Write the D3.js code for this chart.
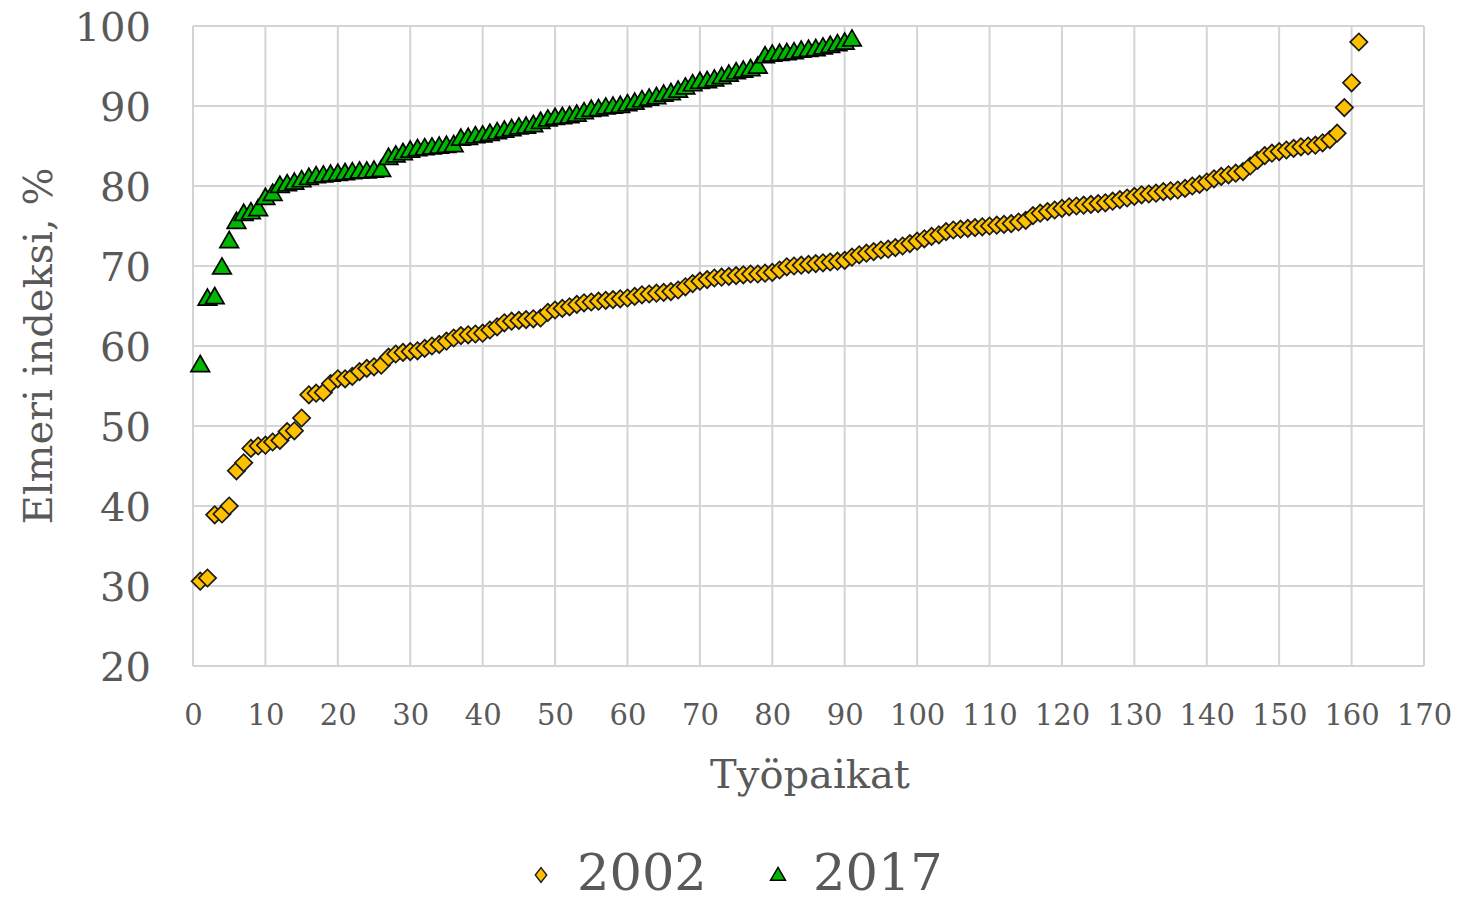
<!DOCTYPE html>
<html>
<head>
<meta charset="utf-8">
<script src="https://cdn.jsdelivr.net/npm/d3@7"></script>
<style>
  body { margin: 0; background: #fff; }
  svg { display: block; }
</style>
</head>
<body>
<svg id="chart"></svg>
<script>
// Elmeri-indeksi per työpaikka, järjestetty nousevasti
var vals2002 = [30.6, 31.0, 38.9, 39.0, 40.0, 44.4, 45.4, 47.2, 47.5, 47.6,
  48.0, 48.2, 49.3, 49.4, 51.0, 53.9, 54.1, 54.2, 55.3, 55.9,
  55.9, 56.2, 56.8, 57.2, 57.4, 57.6, 58.6, 59.0, 59.2, 59.3,
  59.4, 59.7, 60.0, 60.2, 60.6, 61.0, 61.3, 61.4, 61.5, 61.6,
  62.0, 62.4, 62.9, 63.1, 63.2, 63.3, 63.4, 63.5, 64.2, 64.5,
  64.7, 64.9, 65.2, 65.4, 65.5, 65.6, 65.7, 65.8, 65.9, 66.0,
  66.2, 66.4, 66.5, 66.6, 66.7, 66.8, 67.0, 67.4, 67.8, 68.1,
  68.3, 68.5, 68.6, 68.7, 68.8, 68.9, 69.0, 69.0, 69.1, 69.2,
  69.5, 69.9, 70.0, 70.1, 70.2, 70.3, 70.4, 70.5, 70.6, 70.7,
  71.1, 71.4, 71.6, 71.8, 72.0, 72.1, 72.3, 72.5, 72.8, 73.1,
  73.4, 73.7, 73.9, 74.3, 74.5, 74.6, 74.7, 74.8, 74.9, 75.0,
  75.1, 75.2, 75.3, 75.5, 75.7, 76.3, 76.6, 76.8, 77.0, 77.2,
  77.4, 77.5, 77.6, 77.7, 77.8, 77.9, 78.1, 78.3, 78.5, 78.7,
  78.9, 79.0, 79.1, 79.3, 79.4, 79.5, 79.7, 80.0, 80.2, 80.5,
  80.9, 81.2, 81.4, 81.6, 81.8, 82.5, 83.2, 83.8, 84.1, 84.3,
  84.5, 84.7, 84.9, 85.0, 85.1, 85.4, 85.8, 86.6, 89.8, 92.9,
  98.0];

var vals2017 = [57.6, 65.9, 66.1, 69.8, 73.1, 75.5, 76.5, 76.7, 77.1, 78.5,
  79.0, 80.0, 80.2, 80.4, 80.7, 81.0, 81.2, 81.3, 81.4, 81.5,
  81.6, 81.7, 81.8, 81.8, 81.9, 82.0, 83.5, 83.8, 84.1, 84.4,
  84.6, 84.7, 84.8, 84.9, 85.0, 85.1, 85.9, 86.0, 86.2, 86.3,
  86.5, 86.7, 86.9, 87.1, 87.3, 87.4, 87.6, 88.0, 88.3, 88.5,
  88.6, 88.7, 88.9, 89.2, 89.5, 89.6, 89.8, 89.9, 90.0, 90.2,
  90.4, 90.7, 90.9, 91.1, 91.4, 91.6, 91.9, 92.3, 92.7, 93.0,
  93.1, 93.3, 93.6, 93.9, 94.2, 94.4, 94.6, 94.9, 96.2, 96.4,
  96.5, 96.6, 96.7, 96.9, 97.0, 97.1, 97.3, 97.5, 97.7, 97.9,
  98.3];

var seriesNames = ["2002", "2017"];
var xTicks = d3.range(0, 171, 10);
var yTicks = d3.range(20, 101, 10);

var width = 1464, height = 903;
var margin = {left: 193, right: 40, top: 26, bottom: 237};

var svg = d3.select("#chart").attr("width", width).attr("height", height);

var x = d3.scaleLinear().domain([0, 170]).range([margin.left, width - margin.right]);
var y = d3.scaleLinear().domain([20, 100]).range([height - margin.bottom, margin.top]);

var gridColor = "#d4d4d4";
var textColor = "#595959";

// grid
svg.append("g").selectAll("line").data(xTicks).enter().append("line")
  .attr("x1", function(d) { return x(d); })
  .attr("x2", function(d) { return x(d); })
  .attr("y1", y(20)).attr("y2", y(100))
  .style("stroke", gridColor).style("stroke-width", 2);
svg.append("g").selectAll("line").data(yTicks).enter().append("line")
  .attr("y1", function(d) { return y(d); })
  .attr("y2", function(d) { return y(d); })
  .attr("x1", x(0)).attr("x2", x(170))
  .style("stroke", gridColor).style("stroke-width", 2);

// axes (labels only)
var xAxis = svg.append("g")
  .attr("transform", "translate(0," + y(20) + ")")
  .call(d3.axisBottom(x).tickValues(xTicks).tickSize(0).tickPadding(53));
var yAxis = svg.append("g")
  .attr("transform", "translate(" + x(0) + ",0)")
  .call(d3.axisLeft(y).tickValues(yTicks).tickSize(0).tickPadding(42));
[xAxis, yAxis].forEach(function(a) { a.select(".domain").remove(); });
xAxis.selectAll("text")
  .style("font-family", "'DejaVu Serif', serif").style("font-size", "29px")
  .style("fill", textColor).attr("dy", "0.2em");
yAxis.selectAll("text")
  .style("font-family", "'DejaVu Serif', serif").style("font-size", "40px")
  .style("fill", textColor).attr("dy", "0.36em");

// axis titles
svg.append("text")
  .attr("x", 810).attr("y", 788)
  .style("text-anchor", "middle")
  .style("font-family", "'DejaVu Serif', serif").style("font-size", "40px")
  .style("fill", textColor)
  .text("Työpaikat");
svg.append("text")
  .attr("transform", "translate(52," + 346 + ") rotate(-90)")
  .style("text-anchor", "middle")
  .style("font-family", "'DejaVu Serif', serif").style("font-size", "40px")
  .style("fill", textColor)
  .text("Elmeri indeksi, %");

// markers
var diamond = d3.symbol().type(d3.symbolSquare).size(150);
var triangle = d3.symbol().type(d3.symbolTriangle).size(150);

svg.append("g").selectAll("path").data(vals2002).enter().append("path")
  .attr("d", diamond)
  .attr("transform", function(d, i) { return "translate(" + x(i + 1) + "," + y(d) + ") rotate(45)"; })
  .style("fill", "#ffc000").style("stroke", "#1a1a1a").style("stroke-width", 1.7);

svg.append("g").selectAll("path").data(vals2017).enter().append("path")
  .attr("d", triangle)
  .attr("transform", function(d, i) { return "translate(" + x(i + 1) + "," + (y(d) + 1) + ")"; })
  .style("fill", "#00b800").style("stroke", "#000").style("stroke-width", 1.7);

// legend
var legend = svg.append("g");
legend.append("path")
  .attr("d", d3.symbol().type(d3.symbolSquare).size(90))
  .attr("transform", "translate(541,875) scale(0.85,1.1) rotate(45)")
  .style("fill", "#ffc000").style("stroke", "#1a1a1a").style("stroke-width", 1.5);
legend.append("path")
  .attr("d", d3.symbol().type(d3.symbolTriangle).size(95))
  .attr("transform", "translate(778,876)")
  .style("fill", "#00b800").style("stroke", "#000").style("stroke-width", 1.5);
legend.selectAll("text").data(seriesNames).enter().append("text")
  .attr("x", function(d, i) { return i === 0 ? 577 : 813; })
  .attr("y", 890)
  .style("font-family", "'DejaVu Serif', serif").style("font-size", "51px")
  .style("fill", textColor)
  .text(function(d) { return d; });
</script>
</body>
</html>
